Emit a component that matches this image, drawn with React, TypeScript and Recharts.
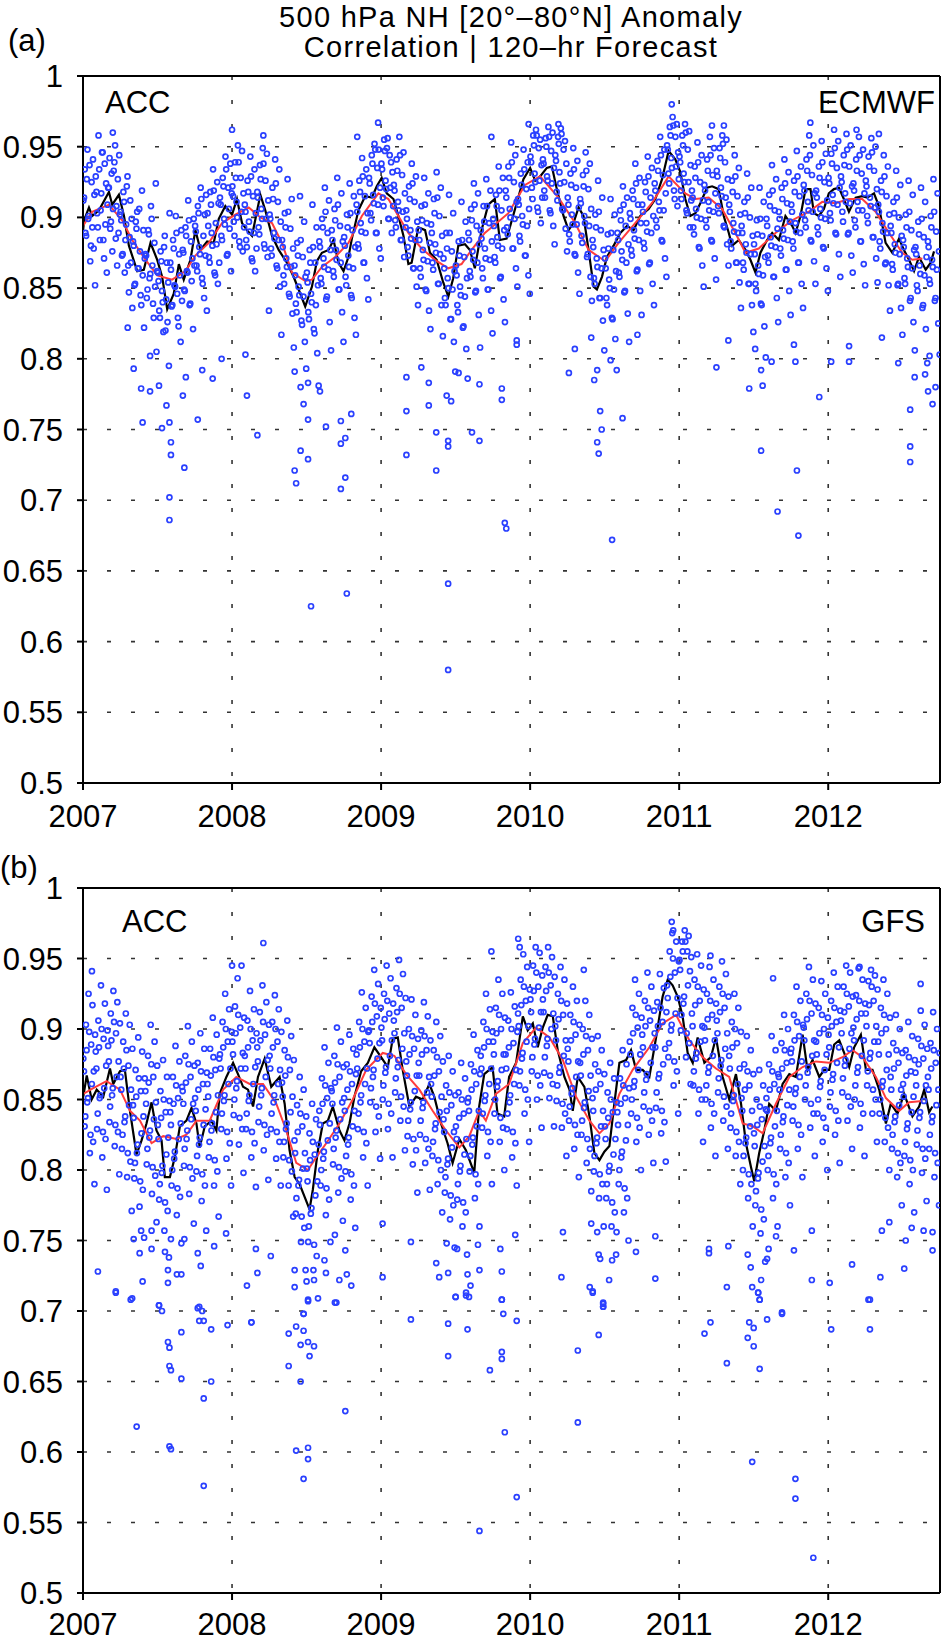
import React from 'react';
import { CartesianGrid, ComposedChart, Line, ReferenceLine, Scatter, XAxis, YAxis } from 'recharts';

const FONT = '"Liberation Sans", Arial, Helvetica, sans-serif';
const yearTicks = [2007, 2008, 2009, 2010, 2011, 2012];
const accTicks = [0.5, 0.55, 0.6, 0.65, 0.7, 0.75, 0.8, 0.85, 0.9, 0.95, 1];
const xEnd = 2012.75;

// daily ACC samples, one row per month (Jan 2007 .. Sep 2012), values in thousandths
const ecmwfMonthly = [
  [912, 934, 887, 948, 901, 869, 925, 893, 941, 878, 916, 852],
  [929, 903, 958, 884, 917, 946, 871, 938, 895, 924, 861, 909],
  [921, 942, 897, 876, 933, 951, 908, 866, 927, 889, 944, 902],
  [904, 873, 918, 861, 895, 929, 847, 886, 912, 868, 899, 836],
  [883, 852, 897, 904, 864, 876, 838, 919, 859, 891, 822, 871],
  [874, 843, 891, 857, 908, 866, 829, 882, 851, 924, 805, 862],
  [861, 834, 876, 848, 819, 887, 842, 868, 826, 854, 795, 903],
  [868, 837, 884, 852, 901, 846, 823, 874, 859, 812, 891, 841],
  [877, 849, 893, 862, 912, 838, 883, 855, 871, 821, 899, 866],
  [894, 866, 908, 879, 921, 857, 887, 843, 902, 873, 916, 834],
  [903, 872, 918, 889, 934, 861, 896, 881, 925, 853, 910, 868],
  [914, 887, 928, 899, 943, 873, 921, 906, 892, 938, 862, 917],
  [922, 897, 939, 911, 951, 883, 928, 904, 947, 876, 917, 893],
  [909, 884, 926, 897, 943, 871, 915, 889, 934, 862, 903, 878],
  [918, 893, 937, 906, 949, 881, 926, 899, 945, 872, 912, 834],
  [902, 878, 921, 889, 941, 866, 911, 884, 934, 851, 897, 817],
  [884, 859, 903, 871, 927, 846, 892, 865, 913, 832, 878, 808],
  [866, 839, 882, 851, 915, 827, 872, 844, 897, 812, 858, 793],
  [861, 833, 877, 846, 909, 821, 868, 838, 893, 804, 852, 781],
  [883, 857, 899, 871, 921, 842, 889, 863, 912, 826, 877, 806],
  [891, 862, 906, 877, 928, 849, 894, 868, 917, 833, 883, 812],
  [886, 858, 902, 873, 924, 845, 891, 864, 915, 829, 879, 817],
  [909, 881, 926, 896, 942, 868, 915, 889, 934, 857, 903, 842],
  [928, 903, 944, 916, 952, 889, 935, 909, 948, 878, 921, 871],
  [938, 914, 955, 926, 949, 899, 944, 921, 939, 889, 932, 908],
  [923, 898, 941, 911, 957, 884, 930, 904, 946, 872, 917, 893],
  [905, 879, 922, 891, 938, 864, 911, 884, 929, 851, 897, 838],
  [891, 864, 908, 877, 928, 849, 896, 869, 917, 834, 882, 821],
  [895, 868, 913, 881, 932, 853, 901, 874, 921, 838, 887, 816],
  [871, 843, 889, 857, 916, 828, 876, 849, 903, 812, 862, 791],
  [866, 838, 883, 851, 911, 822, 872, 844, 897, 807, 857, 786],
  [889, 862, 906, 876, 924, 847, 894, 868, 917, 831, 881, 808],
  [891, 864, 908, 878, 927, 849, 896, 870, 919, 834, 883, 818],
  [899, 872, 916, 886, 936, 857, 905, 878, 928, 842, 891, 826],
  [919, 893, 936, 906, 953, 878, 925, 899, 944, 864, 911, 851],
  [913, 887, 931, 901, 948, 873, 920, 894, 939, 859, 906, 846],
  [943, 921, 958, 931, 962, 907, 949, 926, 955, 896, 937, 914],
  [941, 919, 956, 929, 964, 905, 947, 924, 960, 894, 935, 881],
  [944, 918, 957, 932, 963, 906, 948, 925, 954, 892, 938, 876],
  [914, 888, 931, 902, 949, 874, 921, 895, 940, 861, 907, 846],
  [913, 887, 930, 901, 946, 872, 920, 894, 938, 858, 906, 841],
  [884, 857, 902, 871, 926, 843, 891, 864, 914, 827, 877, 806],
  [871, 843, 888, 856, 913, 829, 877, 849, 902, 814, 862, 792],
  [889, 861, 905, 876, 922, 847, 894, 868, 914, 832, 881, 812],
  [903, 877, 919, 891, 938, 862, 909, 884, 928, 848, 896, 831],
  [909, 882, 925, 896, 943, 867, 914, 889, 935, 853, 901, 838],
  [924, 898, 940, 911, 957, 884, 930, 905, 948, 871, 917, 858],
  [951, 931, 964, 942, 971, 919, 957, 936, 966, 908, 946, 927],
  [943, 919, 958, 931, 966, 905, 948, 925, 961, 893, 937, 912],
  [919, 893, 936, 906, 953, 879, 925, 899, 944, 866, 912, 851],
  [923, 898, 941, 911, 957, 884, 930, 904, 949, 871, 917, 856],
  [933, 908, 949, 921, 958, 894, 939, 914, 955, 881, 927, 866],
  [909, 883, 926, 896, 944, 868, 915, 889, 935, 854, 902, 836],
  [894, 868, 911, 881, 931, 853, 900, 874, 921, 838, 887, 819],
  [881, 853, 898, 866, 921, 839, 887, 859, 911, 823, 872, 801],
  [899, 873, 916, 886, 937, 858, 905, 879, 927, 843, 892, 826],
  [904, 878, 921, 891, 941, 863, 910, 884, 932, 848, 897, 831],
  [909, 883, 926, 896, 947, 868, 915, 889, 936, 853, 902, 836],
  [923, 898, 941, 911, 958, 884, 930, 904, 951, 869, 917, 853],
  [919, 893, 936, 906, 954, 879, 925, 899, 945, 864, 912, 848],
  [928, 903, 945, 916, 962, 889, 935, 909, 954, 874, 921, 858],
  [929, 904, 944, 917, 959, 888, 936, 910, 951, 873, 922, 861],
  [924, 898, 941, 911, 957, 883, 931, 905, 948, 867, 917, 852],
  [926, 901, 943, 914, 956, 886, 933, 907, 950, 871, 920, 854],
  [909, 883, 926, 896, 944, 867, 915, 889, 936, 852, 902, 834],
  [894, 867, 911, 881, 933, 852, 900, 874, 923, 836, 887, 817],
  [884, 857, 902, 871, 926, 841, 891, 864, 916, 826, 877, 806],
  [879, 852, 897, 866, 921, 836, 886, 859, 911, 821, 872, 797],
  [883, 856, 901, 870, 927, 841, 890, 863, 917, 825, 876, 803],
];

// more days from the dense core of the ECMWF cloud, same months
const ecmwfCore = [
  [914, 889, 927, 899, 937, 880], [918, 893, 934, 905, 946, 884], [921, 892, 931, 906, 939, 885],
  [898, 874, 911, 884, 922, 866], [880, 853, 892, 864, 906, 845], [873, 849, 888, 860, 899, 839],
  [855, 829, 869, 840, 879, 820], [863, 838, 878, 851, 889, 829], [875, 848, 887, 861, 898, 839],
  [890, 862, 903, 874, 913, 853], [894, 868, 909, 880, 919, 859], [909, 884, 922, 895, 934, 874],
  [915, 887, 928, 900, 939, 879], [904, 879, 918, 890, 929, 869], [914, 888, 927, 899, 938, 878],
  [899, 873, 913, 885, 924, 864], [879, 853, 893, 865, 904, 844], [859, 833, 873, 845, 884, 824],
  [854, 828, 868, 840, 879, 818], [879, 853, 893, 865, 904, 844], [884, 858, 898, 870, 909, 849],
  [880, 852, 893, 865, 903, 843], [904, 878, 918, 890, 929, 868], [924, 898, 938, 910, 948, 889],
  [934, 908, 947, 920, 956, 899], [919, 893, 933, 905, 944, 884], [899, 873, 913, 885, 924, 864],
  [884, 858, 898, 870, 909, 848], [889, 863, 903, 875, 914, 853], [864, 838, 878, 850, 889, 828],
  [859, 833, 873, 845, 884, 823], [884, 858, 898, 870, 909, 848], [885, 857, 897, 871, 908, 849],
  [894, 868, 908, 880, 919, 858], [914, 888, 928, 900, 939, 878], [909, 883, 923, 895, 934, 873],
  [939, 913, 951, 925, 958, 904], [938, 914, 950, 926, 957, 903], [940, 912, 952, 924, 959, 905],
  [909, 883, 923, 895, 934, 873], [910, 882, 922, 896, 933, 874], [879, 853, 893, 865, 904, 843],
  [864, 838, 878, 850, 889, 828], [884, 858, 898, 870, 909, 848], [899, 873, 913, 885, 924, 863],
  [904, 878, 918, 890, 929, 868], [919, 893, 933, 905, 944, 883], [948, 924, 958, 935, 965, 913],
  [939, 913, 951, 925, 960, 903], [914, 888, 928, 900, 939, 878], [919, 893, 933, 905, 944, 883],
  [929, 903, 942, 915, 952, 893], [904, 878, 918, 890, 929, 868], [889, 863, 903, 875, 914, 853],
  [874, 848, 888, 860, 899, 838], [894, 868, 908, 880, 919, 858], [899, 873, 913, 885, 924, 863],
  [904, 878, 918, 890, 929, 868], [919, 893, 933, 905, 944, 883], [914, 888, 928, 900, 939, 878],
  [924, 898, 938, 910, 949, 888], [925, 897, 937, 911, 948, 889], [919, 893, 933, 905, 944, 883],
  [922, 896, 936, 908, 946, 886], [904, 878, 918, 890, 929, 868], [889, 863, 903, 875, 914, 853],
  [879, 853, 893, 865, 904, 843], [874, 848, 888, 860, 899, 838], [879, 853, 893, 865, 904, 843],
];

const ecmwfTails: [number, number][] = [
  [2007.2, 0.96], [2008.0, 0.962], [2008.21, 0.958], [2008.84, 0.957], [2008.98, 0.967], [2009.74, 0.957],
  [2009.99, 0.966], [2010.19, 0.966], [2010.95, 0.98], [2011.22, 0.965], [2011.3, 0.965], [2011.88, 0.967],
  [2012.19, 0.962], [2012.34, 0.959],
  [2007.3, 0.822], [2007.34, 0.793], [2007.39, 0.779], [2007.4, 0.755], [2007.45, 0.777], [2007.45, 0.802],
  [2007.51, 0.781], [2007.53, 0.751], [2007.56, 0.767], [2007.58, 0.755], [2007.59, 0.741], [2007.59, 0.732],
  [2007.58, 0.702], [2007.58, 0.686], [2007.67, 0.774], [2007.68, 0.723], [2007.69, 0.787], [2007.77, 0.757],
  [2007.8, 0.792], [2007.87, 0.786], [2007.93, 0.8], [2008.09, 0.803], [2008.1, 0.774], [2008.17, 0.746],
  [2008.42, 0.791], [2008.46, 0.78], [2008.51, 0.783], [2008.59, 0.777], [2008.48, 0.768], [2008.51, 0.757],
  [2008.63, 0.752], [2008.46, 0.735], [2008.51, 0.729], [2008.42, 0.721], [2008.43, 0.712], [2008.53, 0.625],
  [2008.73, 0.756], [2008.76, 0.744], [2008.73, 0.74], [2008.76, 0.716], [2008.73, 0.708], [2008.8, 0.761],
  [2008.77, 0.634], [2009.17, 0.787], [2009.17, 0.763], [2009.17, 0.732], [2009.27, 0.794], [2009.32, 0.783],
  [2009.32, 0.767], [2009.44, 0.774], [2009.47, 0.77], [2009.37, 0.748], [2009.45, 0.742], [2009.45, 0.738],
  [2009.37, 0.721], [2009.45, 0.641], [2009.45, 0.58], [2009.52, 0.79], [2009.61, 0.748], [2009.66, 0.742],
  [2009.66, 0.782], [2009.81, 0.779], [2009.81, 0.771], [2009.83, 0.684], [2009.84, 0.68], [2009.91, 0.813],
  [2009.91, 0.81], [2010.26, 0.79], [2010.3, 0.807], [2010.41, 0.815], [2010.43, 0.785], [2010.45, 0.792],
  [2010.47, 0.763], [2010.48, 0.75], [2010.45, 0.741], [2010.46, 0.733], [2010.54, 0.799], [2010.55, 0.672],
  [2010.62, 0.758], [2010.72, 0.817], [2011.25, 0.794], [2011.33, 0.813], [2011.47, 0.779], [2011.51, 0.807],
  [2011.55, 0.792], [2011.56, 0.781], [2011.55, 0.735], [2011.62, 0.798], [2011.66, 0.692], [2011.77, 0.81],
  [2011.78, 0.798], [2011.79, 0.721], [2011.8, 0.675], [2011.94, 0.773], [2012.02, 0.798], [2012.14, 0.798],
  [2012.14, 0.809], [2012.36, 0.815], [2012.47, 0.797], [2012.55, 0.764], [2012.55, 0.738], [2012.55, 0.727],
  [2012.58, 0.787], [2012.65, 0.789], [2012.67, 0.777], [2012.7, 0.768], [2012.72, 0.78], [2012.68, 0.802],
];

const ecmwfBlack: [number, number][] = [
  [2007.0, 0.89], [2007.007, 0.898], [2007.04, 0.907], [2007.062, 0.901], [2007.107, 0.905], [2007.174, 0.918],
  [2007.196, 0.909], [2007.241, 0.916], [2007.275, 0.901], [2007.308, 0.88], [2007.364, 0.862], [2007.408, 0.863],
  [2007.453, 0.882], [2007.498, 0.87], [2007.531, 0.858], [2007.565, 0.835], [2007.609, 0.846], [2007.643, 0.867],
  [2007.676, 0.856], [2007.721, 0.87], [2007.754, 0.891], [2007.788, 0.877], [2007.833, 0.883], [2007.877, 0.882],
  [2007.911, 0.899], [2007.955, 0.908], [2008.0, 0.902], [2008.033, 0.913], [2008.067, 0.896], [2008.1, 0.891],
  [2008.134, 0.887], [2008.19, 0.916], [2008.223, 0.905], [2008.268, 0.887], [2008.313, 0.877], [2008.368, 0.868],
  [2008.413, 0.858], [2008.458, 0.846], [2008.491, 0.837], [2008.536, 0.851], [2008.569, 0.869], [2008.603, 0.875],
  [2008.647, 0.877], [2008.681, 0.884], [2008.714, 0.868], [2008.748, 0.862], [2008.781, 0.872], [2008.804, 0.885],
  [2008.848, 0.905], [2008.893, 0.915], [2008.938, 0.914], [2008.971, 0.922], [2009.004, 0.928], [2009.038, 0.917],
  [2009.083, 0.913], [2009.116, 0.901], [2009.15, 0.887], [2009.183, 0.867], [2009.205, 0.868], [2009.25, 0.893],
  [2009.295, 0.891], [2009.328, 0.875], [2009.373, 0.87], [2009.417, 0.854], [2009.451, 0.844], [2009.484, 0.857],
  [2009.518, 0.88], [2009.563, 0.881], [2009.596, 0.877], [2009.629, 0.864], [2009.674, 0.891], [2009.719, 0.909],
  [2009.763, 0.913], [2009.797, 0.884], [2009.842, 0.885], [2009.899, 0.906], [2009.955, 0.927], [2010.0, 0.935],
  [2010.034, 0.926], [2010.067, 0.929], [2010.112, 0.935], [2010.146, 0.936], [2010.179, 0.92], [2010.224, 0.901],
  [2010.258, 0.891], [2010.291, 0.896], [2010.325, 0.907], [2010.358, 0.901], [2010.392, 0.877], [2010.426, 0.851],
  [2010.448, 0.849], [2010.482, 0.858], [2010.515, 0.872], [2010.56, 0.88], [2010.605, 0.889], [2010.65, 0.894],
  [2010.694, 0.891], [2010.739, 0.901], [2010.795, 0.906], [2010.84, 0.913], [2010.885, 0.927], [2010.929, 0.947],
  [2010.974, 0.941], [2011.008, 0.932], [2011.041, 0.913], [2011.075, 0.901], [2011.109, 0.903], [2011.142, 0.91],
  [2011.187, 0.921], [2011.221, 0.922], [2011.265, 0.92], [2011.299, 0.901], [2011.333, 0.889], [2011.355, 0.88],
  [2011.4, 0.884], [2011.445, 0.877], [2011.478, 0.87], [2011.512, 0.861], [2011.545, 0.875], [2011.59, 0.884],
  [2011.624, 0.889], [2011.669, 0.884], [2011.713, 0.901], [2011.758, 0.894], [2011.781, 0.889], [2011.814, 0.901],
  [2011.848, 0.92], [2011.881, 0.92], [2011.904, 0.903], [2011.937, 0.901], [2011.971, 0.906], [2012.004, 0.917],
  [2012.038, 0.92], [2012.072, 0.921], [2012.105, 0.913], [2012.139, 0.904], [2012.184, 0.914], [2012.228, 0.915],
  [2012.262, 0.914], [2012.307, 0.917], [2012.34, 0.908], [2012.385, 0.882], [2012.43, 0.875], [2012.475, 0.885],
  [2012.508, 0.877], [2012.542, 0.87], [2012.576, 0.862], [2012.609, 0.872], [2012.654, 0.863], [2012.688, 0.868],
  [2012.71, 0.876],
];

const ecmwfRed: [number, number][] = [
  [2007.0, 0.894], [2007.062, 0.904], [2007.174, 0.909], [2007.263, 0.898], [2007.33, 0.884], [2007.42, 0.87],
  [2007.498, 0.859], [2007.598, 0.856], [2007.688, 0.862], [2007.754, 0.873], [2007.844, 0.882], [2007.933, 0.896],
  [2008.022, 0.902], [2008.112, 0.907], [2008.19, 0.9], [2008.268, 0.896], [2008.335, 0.882], [2008.402, 0.861],
  [2008.491, 0.855], [2008.536, 0.856], [2008.603, 0.865], [2008.692, 0.872], [2008.781, 0.882], [2008.871, 0.901],
  [2008.982, 0.917], [2009.049, 0.913], [2009.116, 0.901], [2009.183, 0.889], [2009.272, 0.878], [2009.362, 0.87],
  [2009.451, 0.864], [2009.54, 0.867], [2009.607, 0.877], [2009.696, 0.889], [2009.786, 0.897], [2009.854, 0.903],
  [2009.966, 0.923], [2010.067, 0.929], [2010.19, 0.914], [2010.302, 0.896], [2010.392, 0.877], [2010.504, 0.869],
  [2010.593, 0.882], [2010.705, 0.896], [2010.817, 0.91], [2010.929, 0.929], [2011.041, 0.917], [2011.109, 0.913],
  [2011.198, 0.914], [2011.288, 0.906], [2011.377, 0.889], [2011.445, 0.875], [2011.534, 0.878], [2011.646, 0.889],
  [2011.758, 0.898], [2011.87, 0.904], [2011.96, 0.911], [2012.049, 0.91], [2012.139, 0.913], [2012.228, 0.913],
  [2012.318, 0.904], [2012.408, 0.889], [2012.497, 0.875], [2012.564, 0.87], [2012.632, 0.871],
];

const gfsMonthly = [
  [879, 831, 903, 848, 925, 812, 889, 861, 917, 820, 870, 790, 896],
  [884, 829, 906, 851, 931, 809, 893, 858, 918, 822, 874, 786, 899],
  [888, 834, 911, 853, 927, 817, 897, 866, 919, 827, 877, 797, 904],
  [866, 815, 891, 834, 911, 795, 874, 846, 903, 806, 857, 771, 886],
  [846, 794, 871, 812, 894, 774, 856, 826, 884, 786, 838, 752, 865],
  [856, 804, 881, 823, 903, 783, 866, 836, 891, 796, 848, 763, 874],
  [832, 779, 856, 798, 878, 757, 841, 811, 866, 771, 823, 738, 849],
  [841, 789, 866, 808, 888, 768, 851, 822, 877, 781, 833, 748, 859],
  [856, 803, 881, 822, 902, 783, 866, 836, 891, 794, 847, 762, 874],
  [851, 799, 876, 818, 897, 778, 861, 832, 886, 789, 843, 757, 869],
  [861, 809, 886, 828, 908, 789, 871, 841, 896, 799, 853, 767, 879],
  [882, 829, 905, 849, 925, 808, 891, 861, 914, 819, 872, 789, 898],
  [891, 839, 916, 858, 936, 818, 901, 872, 945, 829, 883, 798, 908],
  [881, 829, 906, 849, 927, 809, 892, 861, 914, 819, 873, 788, 897],
  [887, 834, 912, 853, 931, 814, 896, 866, 919, 825, 878, 793, 903],
  [881, 829, 905, 848, 924, 808, 891, 861, 914, 820, 871, 789, 898],
  [862, 809, 885, 829, 906, 789, 871, 841, 895, 799, 852, 767, 878],
  [821, 769, 846, 789, 866, 749, 831, 801, 857, 759, 812, 729, 838],
  [801, 749, 826, 769, 847, 729, 811, 782, 836, 739, 792, 709, 818],
  [842, 789, 865, 808, 887, 768, 851, 821, 876, 779, 833, 749, 858],
  [856, 804, 881, 823, 901, 784, 866, 836, 891, 794, 848, 764, 873],
  [851, 799, 875, 818, 896, 779, 861, 831, 886, 789, 842, 759, 868],
  [882, 829, 905, 848, 926, 809, 891, 861, 915, 819, 872, 789, 898],
  [899, 848, 923, 866, 942, 827, 909, 879, 932, 838, 890, 808, 915],
  [901, 850, 925, 869, 945, 829, 911, 881, 936, 840, 892, 809, 918],
  [906, 855, 929, 873, 949, 835, 915, 886, 939, 845, 897, 814, 922],
  [877, 824, 900, 843, 921, 804, 886, 856, 910, 814, 867, 784, 893],
  [876, 825, 899, 844, 919, 805, 885, 855, 909, 815, 866, 786, 892],
  [861, 810, 885, 829, 905, 790, 870, 841, 895, 800, 852, 770, 877],
  [836, 784, 860, 804, 881, 765, 846, 816, 870, 775, 827, 745, 853],
  [831, 779, 855, 799, 876, 760, 840, 811, 865, 770, 822, 740, 848],
  [851, 799, 875, 818, 896, 780, 861, 831, 885, 790, 842, 760, 868],
  [881, 830, 905, 849, 925, 810, 891, 861, 914, 820, 872, 790, 898],
  [891, 840, 915, 859, 935, 820, 900, 871, 925, 830, 882, 800, 908],
  [882, 829, 906, 848, 926, 809, 890, 861, 916, 819, 871, 789, 898],
  [911, 860, 935, 879, 953, 840, 920, 891, 944, 850, 902, 820, 928],
  [921, 870, 945, 889, 958, 850, 930, 901, 954, 860, 912, 830, 938],
  [921, 869, 944, 888, 958, 851, 931, 900, 951, 861, 911, 831, 937],
  [902, 849, 925, 869, 944, 830, 910, 881, 935, 840, 892, 810, 918],
  [886, 835, 910, 854, 930, 815, 896, 866, 920, 825, 877, 795, 903],
  [876, 825, 900, 844, 920, 805, 885, 856, 910, 815, 867, 785, 893],
  [851, 799, 875, 819, 895, 780, 861, 831, 885, 790, 842, 760, 868],
  [831, 780, 855, 799, 876, 760, 841, 811, 865, 770, 822, 740, 848],
  [841, 790, 865, 809, 885, 770, 851, 821, 875, 780, 832, 750, 858],
  [891, 840, 915, 859, 935, 820, 901, 871, 925, 830, 882, 800, 908],
  [896, 845, 920, 864, 940, 825, 906, 876, 930, 835, 887, 805, 913],
  [897, 844, 919, 865, 939, 826, 905, 875, 929, 834, 886, 806, 912],
  [931, 880, 955, 899, 968, 860, 940, 911, 962, 870, 922, 840, 948],
  [949, 899, 962, 918, 970, 880, 955, 931, 966, 890, 941, 861, 951],
  [911, 860, 935, 879, 953, 840, 920, 891, 945, 850, 902, 820, 928],
  [901, 850, 925, 869, 944, 830, 910, 881, 935, 840, 892, 810, 918],
  [906, 855, 930, 874, 948, 835, 915, 886, 939, 845, 897, 815, 923],
  [881, 830, 905, 849, 925, 810, 890, 861, 915, 820, 872, 790, 898],
  [851, 800, 875, 819, 895, 780, 860, 831, 885, 790, 842, 760, 868],
  [826, 775, 850, 794, 871, 755, 836, 806, 860, 765, 817, 735, 843],
  [851, 800, 875, 819, 895, 780, 861, 831, 885, 790, 842, 760, 868],
  [866, 815, 890, 834, 910, 795, 876, 846, 900, 805, 857, 775, 883],
  [886, 835, 910, 854, 930, 815, 895, 866, 920, 825, 877, 795, 903],
  [901, 850, 925, 869, 944, 830, 911, 881, 935, 840, 892, 810, 918],
  [891, 840, 915, 859, 934, 820, 900, 871, 925, 830, 882, 800, 908],
  [896, 845, 920, 864, 940, 825, 905, 876, 930, 835, 887, 805, 913],
  [906, 855, 930, 874, 945, 835, 916, 886, 940, 845, 897, 815, 923],
  [901, 850, 924, 869, 943, 830, 911, 881, 935, 840, 892, 810, 918],
  [911, 860, 934, 879, 942, 840, 920, 891, 938, 850, 902, 820, 928],
  [891, 840, 915, 859, 935, 820, 900, 871, 925, 830, 882, 800, 908],
  [866, 815, 890, 834, 910, 795, 876, 846, 900, 805, 857, 775, 883],
  [861, 810, 885, 829, 905, 790, 870, 841, 895, 800, 852, 770, 878],
  [869, 818, 893, 837, 913, 798, 879, 849, 903, 808, 860, 778, 886],
  [866, 815, 890, 834, 912, 795, 876, 846, 900, 805, 857, 775, 883],
];

// more days from the dense core of the GFS cloud, same months
const gfsCore = [
  [870, 838, 885, 851, 898, 825], [872, 840, 887, 853, 900, 827], [877, 845, 892, 858, 905, 832],
  [857, 825, 872, 838, 885, 812], [837, 805, 852, 818, 865, 792], [847, 815, 862, 828, 875, 802],
  [822, 790, 837, 803, 850, 777], [832, 800, 847, 813, 860, 787], [847, 815, 862, 828, 875, 802],
  [842, 810, 857, 823, 870, 797], [852, 820, 867, 833, 880, 807], [872, 840, 887, 853, 900, 827],
  [882, 850, 897, 863, 910, 837], [872, 840, 887, 853, 900, 827], [877, 845, 892, 858, 905, 832],
  [872, 840, 887, 853, 900, 827], [852, 820, 867, 833, 880, 807], [812, 780, 827, 793, 840, 767],
  [792, 760, 807, 773, 820, 747], [832, 800, 847, 813, 860, 787], [847, 815, 862, 828, 875, 802],
  [842, 810, 857, 823, 870, 797], [872, 840, 887, 853, 900, 827], [890, 858, 905, 871, 918, 845],
  [892, 860, 907, 873, 920, 847], [897, 865, 912, 878, 925, 852], [867, 835, 882, 848, 895, 822],
  [867, 835, 882, 848, 895, 822], [852, 820, 867, 833, 880, 807], [827, 795, 842, 808, 855, 782],
  [822, 790, 837, 803, 850, 777], [842, 810, 857, 823, 870, 797], [872, 840, 887, 853, 900, 827],
  [882, 850, 897, 863, 910, 837], [872, 840, 887, 853, 900, 827], [902, 870, 917, 883, 930, 857],
  [912, 880, 927, 893, 940, 867], [912, 880, 927, 893, 940, 867], [892, 860, 907, 873, 920, 847],
  [877, 845, 892, 858, 905, 832], [867, 835, 882, 848, 895, 822], [842, 810, 857, 823, 870, 797],
  [822, 790, 837, 803, 850, 777], [832, 800, 847, 813, 860, 787], [882, 850, 897, 863, 910, 837],
  [887, 855, 902, 868, 915, 842], [887, 855, 902, 868, 915, 842], [922, 890, 937, 903, 950, 877],
  [942, 910, 955, 923, 962, 897], [902, 870, 917, 883, 930, 857], [892, 860, 907, 873, 920, 847],
  [897, 865, 912, 878, 925, 852], [872, 840, 887, 853, 900, 827], [842, 810, 857, 823, 870, 797],
  [817, 785, 832, 798, 845, 772], [842, 810, 857, 823, 870, 797], [857, 825, 872, 838, 885, 812],
  [877, 845, 892, 858, 905, 832], [892, 860, 907, 873, 920, 847], [882, 850, 897, 863, 910, 837],
  [887, 855, 902, 868, 915, 842], [897, 865, 912, 878, 925, 852], [892, 860, 907, 873, 920, 847],
  [902, 870, 917, 883, 930, 857], [882, 850, 897, 863, 910, 837], [857, 825, 872, 838, 885, 812],
  [852, 820, 867, 833, 880, 807], [860, 828, 875, 841, 888, 815], [857, 825, 872, 838, 885, 812],
];

const gfsTails: [number, number][] = [
  [2007.06, 0.941], [2008.0, 0.945], [2008.21, 0.961], [2009.74, 0.955], [2009.92, 0.964], [2009.93, 0.958],
  [2010.36, 0.942], [2010.95, 0.976], [2010.96, 0.97], [2011.21, 0.952], [2011.63, 0.936], [2012.21, 0.944],
  [2012.62, 0.932],
  [2007.1, 0.728], [2007.22, 0.714], [2007.33, 0.709], [2007.38, 0.741], [2007.4, 0.721], [2007.46, 0.744],
  [2007.51, 0.704], [2007.57, 0.72], [2007.57, 0.729], [2007.63, 0.726], [2007.66, 0.726], [2007.55, 0.742],
  [2007.34, 0.751], [2007.39, 0.757], [2007.46, 0.757], [2007.59, 0.751], [2007.68, 0.751], [2007.77, 0.741],
  [2007.79, 0.732], [2007.88, 0.746], [2007.96, 0.755], [2007.77, 0.702], [2008.13, 0.692], [2008.1, 0.718],
  [2008.16, 0.744], [2008.17, 0.727], [2008.26, 0.739], [2008.42, 0.717], [2008.42, 0.729], [2008.51, 0.708],
  [2008.48, 0.698], [2008.5, 0.721], [2008.55, 0.722], [2008.63, 0.727], [2008.62, 0.736], [2008.69, 0.706],
  [2008.72, 0.722], [2008.77, 0.726], [2008.8, 0.718], [2008.76, 0.743], [2008.69, 0.754], [2009.01, 0.724],
  [2009.01, 0.762], [2009.2, 0.749], [2009.37, 0.734], [2009.39, 0.724], [2009.44, 0.748], [2009.45, 0.727],
  [2009.51, 0.744], [2009.5, 0.71], [2009.57, 0.711], [2009.58, 0.726], [2009.6, 0.718], [2009.66, 0.729],
  [2009.65, 0.747], [2009.81, 0.708], [2009.8, 0.744], [2009.81, 0.728], [2009.9, 0.754], [2010.22, 0.756],
  [2010.21, 0.724], [2010.4, 0.717], [2010.42, 0.714], [2010.49, 0.705], [2010.49, 0.703], [2010.46, 0.74],
  [2010.47, 0.737], [2010.53, 0.722], [2010.55, 0.736], [2010.41, 0.762], [2010.45, 0.756], [2010.58, 0.756],
  [2010.71, 0.742], [2010.84, 0.723], [2010.84, 0.753], [2011.2, 0.744], [2011.2, 0.741], [2011.33, 0.746],
  [2011.32, 0.717], [2011.46, 0.74], [2011.48, 0.731], [2011.49, 0.717], [2011.53, 0.713], [2011.54, 0.708],
  [2011.55, 0.722], [2011.6, 0.744], [2011.59, 0.737], [2011.65, 0.753], [2011.69, 0.698], [2011.77, 0.743],
  [2011.89, 0.722], [2011.89, 0.757], [2012.01, 0.72], [2012.16, 0.733], [2012.27, 0.708], [2012.35, 0.724],
  [2012.51, 0.73], [2012.52, 0.75], [2012.56, 0.759], [2012.64, 0.757], [2012.7, 0.756], [2012.7, 0.743],
  [2012.36, 0.757], [2012.41, 0.763],
  [2007.22, 0.713], [2007.32, 0.708], [2007.51, 0.704], [2007.53, 0.7], [2007.78, 0.703], [2007.8, 0.7],
  [2007.78, 0.693], [2007.81, 0.693], [2007.66, 0.685], [2007.86, 0.687], [2007.97, 0.69], [2008.13, 0.692],
  [2007.57, 0.678], [2007.58, 0.674], [2007.58, 0.661], [2007.59, 0.658], [2007.66, 0.652], [2007.86, 0.65],
  [2007.81, 0.638], [2007.36, 0.618], [2007.58, 0.604], [2007.59, 0.602], [2007.81, 0.576], [2008.43, 0.601],
  [2008.51, 0.603], [2008.51, 0.595], [2008.48, 0.581], [2008.51, 0.707], [2008.7, 0.706], [2008.48, 0.698],
  [2008.43, 0.689], [2008.48, 0.686], [2008.38, 0.684], [2008.46, 0.676], [2008.51, 0.678], [2008.55, 0.675],
  [2008.52, 0.668], [2008.38, 0.661], [2008.46, 0.65], [2008.76, 0.629], [2009.2, 0.694], [2009.45, 0.691],
  [2009.58, 0.687], [2009.5, 0.71], [2009.57, 0.713], [2009.59, 0.71], [2009.81, 0.708], [2009.82, 0.698],
  [2009.91, 0.693], [2009.45, 0.668], [2009.81, 0.671], [2009.81, 0.666], [2009.73, 0.658], [2009.83, 0.614],
  [2009.91, 0.568], [2009.66, 0.544], [2010.42, 0.713], [2010.49, 0.706], [2010.49, 0.703], [2010.46, 0.683],
  [2010.32, 0.672], [2010.32, 0.621], [2011.21, 0.692], [2011.17, 0.684], [2011.47, 0.692], [2011.5, 0.688],
  [2011.46, 0.681], [2011.5, 0.675], [2011.53, 0.713], [2011.54, 0.708], [2011.59, 0.694], [2011.69, 0.699],
  [2011.32, 0.663], [2011.54, 0.659], [2011.49, 0.593], [2011.78, 0.581], [2011.78, 0.567], [2011.9, 0.525],
  [2012.02, 0.687], [2012.28, 0.708], [2012.28, 0.687],
];

const gfsBlack: [number, number][] = [
  [2007.002, 0.852], [2007.025, 0.867], [2007.058, 0.85], [2007.092, 0.857], [2007.136, 0.852], [2007.181, 0.872],
  [2007.203, 0.861], [2007.248, 0.87], [2007.281, 0.871], [2007.315, 0.842], [2007.359, 0.811], [2007.393, 0.821],
  [2007.426, 0.833], [2007.46, 0.848], [2007.493, 0.828], [2007.527, 0.821], [2007.549, 0.795], [2007.583, 0.795],
  [2007.616, 0.809], [2007.65, 0.831], [2007.694, 0.835], [2007.728, 0.844], [2007.761, 0.833], [2007.783, 0.816],
  [2007.817, 0.831], [2007.862, 0.835], [2007.895, 0.828], [2007.917, 0.854], [2007.962, 0.866], [2008.007, 0.876],
  [2008.04, 0.868], [2008.074, 0.859], [2008.107, 0.857], [2008.141, 0.845], [2008.174, 0.866], [2008.219, 0.879],
  [2008.263, 0.859], [2008.319, 0.866], [2008.353, 0.847], [2008.386, 0.814], [2008.42, 0.795], [2008.453, 0.79],
  [2008.487, 0.781], [2008.52, 0.772], [2008.542, 0.786], [2008.576, 0.814], [2008.609, 0.833], [2008.643, 0.835],
  [2008.676, 0.845], [2008.721, 0.828], [2008.754, 0.821], [2008.788, 0.833], [2008.821, 0.852], [2008.866, 0.87],
  [2008.911, 0.876], [2008.955, 0.887], [2009.0, 0.88], [2009.045, 0.873], [2009.078, 0.893], [2009.112, 0.894],
  [2009.145, 0.871], [2009.19, 0.845], [2009.234, 0.852], [2009.279, 0.85], [2009.324, 0.861], [2009.357, 0.852],
  [2009.402, 0.833], [2009.446, 0.819], [2009.48, 0.805], [2009.525, 0.822], [2009.569, 0.814], [2009.625, 0.798],
  [2009.658, 0.845], [2009.692, 0.868], [2009.748, 0.873], [2009.781, 0.84], [2009.826, 0.838], [2009.859, 0.866],
  [2009.906, 0.876], [2009.951, 0.909], [2009.984, 0.899], [2010.018, 0.904], [2010.051, 0.887], [2010.085, 0.901],
  [2010.118, 0.91], [2010.152, 0.909], [2010.185, 0.885], [2010.23, 0.866], [2010.264, 0.857], [2010.286, 0.842],
  [2010.32, 0.866], [2010.364, 0.859], [2010.398, 0.838], [2010.431, 0.812], [2010.465, 0.807], [2010.498, 0.813],
  [2010.532, 0.817], [2010.565, 0.847], [2010.599, 0.876], [2010.644, 0.878], [2010.677, 0.885], [2010.711, 0.871],
  [2010.755, 0.871], [2010.8, 0.866], [2010.845, 0.894], [2010.889, 0.923], [2010.923, 0.935], [2010.956, 0.931],
  [2010.99, 0.923], [2011.023, 0.909], [2011.057, 0.883], [2011.091, 0.876], [2011.124, 0.894], [2011.169, 0.876],
  [2011.213, 0.88], [2011.247, 0.894], [2011.292, 0.866], [2011.336, 0.85], [2011.381, 0.868], [2011.415, 0.847],
  [2011.448, 0.819], [2011.482, 0.802], [2011.504, 0.792], [2011.537, 0.812], [2011.571, 0.828], [2011.604, 0.847],
  [2011.649, 0.842], [2011.694, 0.861], [2011.739, 0.868], [2011.783, 0.866], [2011.828, 0.896], [2011.861, 0.871],
  [2011.895, 0.878], [2011.94, 0.866], [2011.973, 0.871], [2012.007, 0.871], [2012.04, 0.889], [2012.074, 0.892],
  [2012.107, 0.883], [2012.141, 0.873], [2012.174, 0.887], [2012.219, 0.896], [2012.253, 0.871], [2012.297, 0.871],
  [2012.342, 0.857], [2012.387, 0.833], [2012.42, 0.847], [2012.465, 0.84], [2012.509, 0.854], [2012.565, 0.838],
  [2012.61, 0.845], [2012.644, 0.857], [2012.677, 0.841], [2012.699, 0.845],
];

const gfsRed: [number, number][] = [
  [2007.002, 0.854], [2007.069, 0.858], [2007.158, 0.863], [2007.248, 0.857], [2007.315, 0.842], [2007.382, 0.835],
  [2007.46, 0.819], [2007.538, 0.824], [2007.627, 0.822], [2007.694, 0.825], [2007.761, 0.835], [2007.85, 0.835],
  [2007.94, 0.857], [2008.029, 0.866], [2008.118, 0.861], [2008.208, 0.861], [2008.297, 0.847], [2008.364, 0.828],
  [2008.431, 0.805], [2008.509, 0.8], [2008.565, 0.809], [2008.632, 0.819], [2008.721, 0.833], [2008.81, 0.85],
  [2008.9, 0.871], [2009.011, 0.883], [2009.089, 0.881], [2009.167, 0.868], [2009.257, 0.857], [2009.346, 0.842],
  [2009.435, 0.828], [2009.525, 0.816], [2009.592, 0.824], [2009.658, 0.842], [2009.703, 0.835], [2009.77, 0.854],
  [2009.859, 0.861], [2009.951, 0.89], [2010.04, 0.901], [2010.13, 0.894], [2010.219, 0.878], [2010.308, 0.852],
  [2010.398, 0.835], [2010.465, 0.826], [2010.532, 0.833], [2010.599, 0.854], [2010.688, 0.871], [2010.8, 0.887],
  [2010.889, 0.904], [2010.979, 0.91], [2011.068, 0.892], [2011.158, 0.88], [2011.247, 0.872], [2011.336, 0.866],
  [2011.426, 0.833], [2011.493, 0.831], [2011.56, 0.826], [2011.649, 0.847], [2011.739, 0.866], [2011.828, 0.873],
  [2011.917, 0.877], [2012.007, 0.876], [2012.096, 0.88], [2012.163, 0.885], [2012.23, 0.88], [2012.32, 0.866],
  [2012.387, 0.851], [2012.476, 0.842], [2012.543, 0.848], [2012.632, 0.849],
];

type Pt = { x: number; y: number };

// spread each month's days across the month, interleaving the core days
function dailyPoints(monthly: number[][], core: number[][], tails: [number, number][]): Pt[] {
  const pts: Pt[] = [];
  monthly.forEach((row, m) => {
    const extra = core[m] || [];
    const days = row.flatMap((v, i) => (i < extra.length ? [v, extra[i]] : [v]));
    days.forEach((v, i) => {
      pts.push({ x: 2007 + (m + (i + 0.5) / days.length) / 12, y: v / 1000 });
    });
  });
  tails.forEach(([x, y]) => pts.push({ x, y }));
  return pts;
}

const toPts = (rows: [number, number][]): Pt[] => rows.map(([x, y]) => ({ x, y }));

const ring = (p: any) => (
  <circle cx={p.cx} cy={p.cy} r={2.5} fill="none" stroke="#2a40ff" strokeWidth={1.7} />
);

const tickStyle = { fill: '#000', fontSize: 31, fontFamily: FONT };

function Panel({ points, black, red, height, top, axisH, bottom, xMargin }: {
  points: Pt[]; black: Pt[]; red: Pt[]; height: number; top: number; axisH: number; bottom: number; xMargin: number;
}) {
  return (
    <ComposedChart width={944} height={height} margin={{ top, right: 4, bottom, left: 0 }}>
      <CartesianGrid stroke="#333" strokeWidth={1.6} strokeDasharray="4 20" />
      <XAxis
        type="number"
        dataKey="x"
        domain={[2007, xEnd]}
        ticks={yearTicks}
        allowDataOverflow
        height={axisH}
        tick={tickStyle}
        tickSize={7}
        tickMargin={xMargin}
        stroke="#000"
        strokeWidth={2}
      />
      <YAxis
        type="number"
        dataKey="y"
        domain={[0.5, 1]}
        ticks={accTicks}
        allowDataOverflow
        width={83}
        tick={tickStyle}
        tickSize={6}
        tickMargin={14}
        tickFormatter={(v: number) => `${+v.toFixed(2)}`}
        stroke="#000"
        strokeWidth={2}
      />
      <ReferenceLine y={1} stroke="#000" strokeWidth={2} />
      <ReferenceLine x={xEnd} stroke="#000" strokeWidth={2} />
      <Scatter data={points} dataKey="y" shape={ring} isAnimationActive={false} />
      <Line data={black} dataKey="y" type="linear" stroke="#000" strokeWidth={2.2} dot={false} isAnimationActive={false} />
      <Line data={red} dataKey="y" type="linear" stroke="#ff3c3c" strokeWidth={2} dot={false} isAnimationActive={false} />
    </ComposedChart>
  );
}

export default function App() {
  const ecmwf = dailyPoints(ecmwfMonthly, ecmwfCore, ecmwfTails);
  const gfs = dailyPoints(gfsMonthly, gfsCore, gfsTails);
  return (
    <div style={{ position: 'absolute', left: 0, top: 0, width: 944, height: 1642, background: '#fff' }}>
      <div style={{ position: 'absolute', left: 0, top: 0 }}>
        <Panel points={ecmwf} black={toPts(ecmwfBlack)} red={toPts(ecmwfRed)} height={840} top={76} axisH={50} bottom={7} xMargin={15} />
      </div>
      <div style={{ position: 'absolute', left: 0, top: 840 }}>
        <Panel points={gfs} black={toPts(gfsBlack)} red={toPts(gfsRed)} height={802} top={48} axisH={45} bottom={4} xMargin={13} />
      </div>
      <svg width={944} height={1642} style={{ position: 'absolute', left: 0, top: 0, pointerEvents: 'none' }}>
        <g fontFamily={FONT} fill="#000">
          <text fontSize={29} textAnchor="middle" letterSpacing={1.3}>
            <tspan x={511} y={27}>500 hPa NH [20°–80°N] Anomaly</tspan>
            <tspan x={511} y={57}>Correlation | 120–hr Forecast</tspan>
          </text>
          <text x={8} y={51} fontSize={31}>(a)</text>
          <text x={105} y={113} fontSize={31}>ACC</text>
          <text x={935} y={113} fontSize={31} textAnchor="end">ECMWF</text>
          <text x={0} y={878} fontSize={31}>(b)</text>
          <text x={122} y={932} fontSize={31}>ACC</text>
          <text x={925} y={932} fontSize={31} textAnchor="end">GFS</text>
        </g>
      </svg>
    </div>
  );
}
